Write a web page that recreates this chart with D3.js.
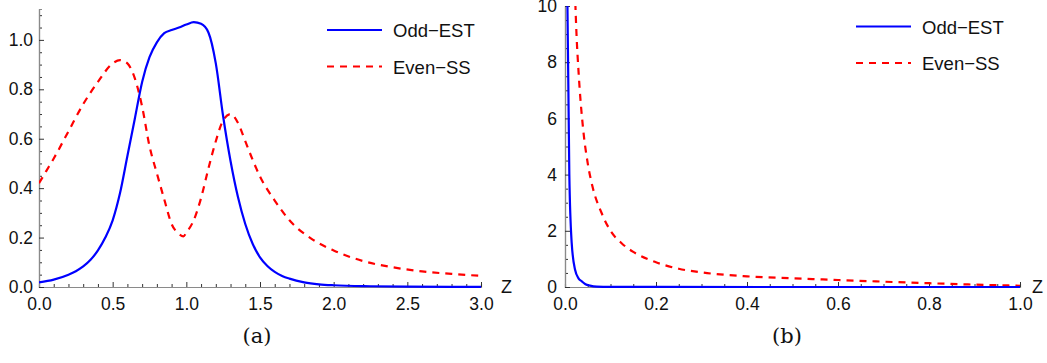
<!doctype html>
<meta charset="utf-8">
<title>Odd-EST / Even-SS</title>
<script src="https://cdn.jsdelivr.net/npm/d3@7"></script>
<style>
    body { margin: 0; background: #fff; }
    svg text { font-family: "Liberation Sans", Arial, sans-serif; fill: #111; }
    .caption { font-family: "DejaVu Serif", "Liberation Serif", serif !important; }
</style>
<body>
<svg id="chart" width="1047" height="363"></svg>
<script>
    // panel (a): values
    var zA     = [0, 0.1, 0.2, 0.25, 0.3, 0.35, 0.4, 0.45, 0.5, 0.55, 0.6, 0.65, 0.7, 0.75, 0.8, 0.85, 0.9, 0.95, 1.0, 1.05, 1.1, 1.15, 1.2, 1.25, 1.3, 1.35, 1.4, 1.45, 1.5, 1.55, 1.6, 1.65, 1.7, 1.8, 1.9, 2.0, 2.25, 2.5, 3.0];
    var oddA   = [0.019, 0.03, 0.05, 0.064, 0.083, 0.11, 0.148, 0.2, 0.27, 0.38, 0.53, 0.68, 0.83, 0.93, 0.99, 1.027, 1.04, 1.05, 1.062, 1.072, 1.065, 1.03, 0.905, 0.69, 0.51, 0.365, 0.255, 0.175, 0.12, 0.085, 0.061, 0.045, 0.034, 0.019, 0.011, 0.007, 0.003, 0.0015, 0.0003];

    var zA2    = [0, 0.05, 0.1, 0.2, 0.3, 0.4, 0.5, 0.55, 0.6, 0.65, 0.7, 0.75, 0.8, 0.85, 0.9, 0.95, 0.98, 1.0, 1.05, 1.1, 1.15, 1.2, 1.25, 1.3, 1.35, 1.4, 1.45, 1.5, 1.6, 1.7, 1.85, 2.0, 2.2, 2.4, 2.6, 2.8, 3.0];
    var evenA  = [0.42, 0.47, 0.52, 0.63, 0.74, 0.83, 0.905, 0.918, 0.905, 0.845, 0.73, 0.57, 0.46, 0.355, 0.255, 0.215, 0.205, 0.22, 0.27, 0.36, 0.48, 0.59, 0.675, 0.70, 0.665, 0.59, 0.515, 0.447, 0.35, 0.27, 0.195, 0.148, 0.105, 0.08, 0.063, 0.053, 0.045];

    // panel (b)
    var zB     = [0.004, 0.0095, 0.0147, 0.022, 0.03, 0.037, 0.045, 0.055, 0.07, 0.1, 0.2, 0.5, 1.0];
    var oddB   = [12, 4, 1.57, 0.62, 0.3, 0.2, 0.1, 0.05, 0.015, 0.005, 0.001, 0, 0];

    var zB2    = [0.02, 0.025, 0.03, 0.04, 0.05, 0.06, 0.08, 0.1, 0.125, 0.15, 0.2, 0.25, 0.3, 0.4, 0.5, 0.6, 0.7, 0.8, 0.9, 1.0];
    var evenB  = [11.5, 9.1, 7.6, 5.6, 4.4, 3.6, 2.65, 2.0, 1.55, 1.25, 0.88, 0.65, 0.52, 0.38, 0.31, 0.25, 0.19, 0.135, 0.085, 0.045];

    var seriesNames = ["Odd\u2212EST", "Even\u2212SS"];
    var xTicksA = [0, 0.5, 1.0, 1.5, 2.0, 2.5, 3.0];
    var yTicksA = [0, 0.2, 0.4, 0.6, 0.8, 1.0];
    var xTicksB = [0, 0.2, 0.4, 0.6, 0.8, 1.0];
    var yTicksB = [0, 2, 4, 6, 8, 10];

    var svg = d3.select("#chart");

    function range(a, b, step) {
        var out = [];
        for (var i = 0; a + i * step <= b + 1e-9; i++) out.push(+(a + i * step).toFixed(4));
        return out;
    }

    function drawPanel(opt) {
        var g = svg.append("g");
        var x = d3.scaleLinear().domain(opt.xDomain).range(opt.xRange);
        var y = d3.scaleLinear().domain(opt.yDomain).range(opt.yRange);

        var clipId = "clip-" + opt.id;
        g.append("clipPath").attr("id", clipId)
            .append("rect")
            .attr("x", opt.xRange[0]).attr("y", opt.yRange[1])
            .attr("width", opt.xRange[1] - opt.xRange[0] + 2)
            .attr("height", opt.yRange[0] - opt.yRange[1] + 2);

        // minor ticks first
        g.append("g").attr("transform", "translate(0," + opt.yRange[0] + ")")
            .call(d3.axisBottom(x).tickValues(opt.xMinor).tickSize(-3).tickFormat(""))
            .call(styleAxis);
        g.append("g").attr("transform", "translate(" + opt.xRange[0] + ",0)")
            .call(d3.axisLeft(y).tickValues(opt.yMinor).tickSize(-3).tickFormat(""))
            .call(styleAxis);

        g.append("g").attr("transform", "translate(0," + opt.yRange[0] + ")")
            .call(d3.axisBottom(x).tickValues(opt.xTicks).tickSize(-5).tickSizeOuter(0)
                .tickPadding(11).tickFormat(d3.format(".1f")))
            .call(styleAxis);
        g.append("g").attr("transform", "translate(" + opt.xRange[0] + ",0)")
            .call(d3.axisLeft(y).tickValues(opt.yTicks).tickSize(-5).tickSizeOuter(0)
                .tickPadding(opt.yPad).tickFormat(opt.yFormat))
            .call(styleAxis);

        g.append("text").attr("x", opt.xRange[1] + opt.zOffset).attr("y", opt.yRange[0] + 6)
            .style("font-size", "18px").text("Z");

        var lineOdd = d3.line().curve(d3.curveMonotoneX)
            .x(function(d, i) { return x(opt.zOdd[i]); })
            .y(function(d) { return y(d); });
        var lineEven = d3.line().curve(d3.curveMonotoneX)
            .x(function(d, i) { return x(opt.zEven[i]); })
            .y(function(d) { return y(d); });

        var plot = g.append("g").attr("clip-path", "url(#" + clipId + ")");
        plot.append("path").datum(opt.even).attr("d", lineEven)
            .attr("fill", "none").attr("stroke", "#ff0000").attr("stroke-width", 2.2)
            .attr("stroke-dasharray", "7,6");
        plot.append("path").datum(opt.odd).attr("d", lineOdd)
            .attr("fill", "none").attr("stroke", "#0000ff").attr("stroke-width", 2.2);

        // legend
        var lg = g.append("g");
        seriesNames.forEach(function(name, i) {
            var ly = opt.legendY[i];
            lg.append("line")
                .attr("x1", opt.legendX).attr("x2", opt.legendX + 55)
                .attr("y1", ly).attr("y2", ly)
                .attr("stroke", i === 0 ? "#0000ff" : "#ff0000")
                .attr("stroke-width", 2.2)
                .attr("stroke-dasharray", i === 0 ? null : "7,6");
            lg.append("text").attr("x", opt.legendX + 66).attr("y", ly + 7)
                .style("font-size", "18.5px").text(name);
        });

        svg.append("text").attr("class", "caption")
            .attr("x", opt.captionX).attr("y", 343)
            .attr("text-anchor", "middle").style("font-size", "21px")
            .text(opt.caption);
    }

    function styleAxis(sel) {
        sel.select(".domain").attr("stroke", "#8a8a8a").attr("stroke-width", 1.2);
        sel.selectAll(".tick line").attr("stroke", "#333");
        sel.selectAll(".tick text").style("font-size", "17.5px").attr("fill", "#111")
            .style("font-family", "'Liberation Sans', Arial, sans-serif");
    }

    drawPanel({
        id: "a",
        xDomain: [0, 3], xRange: [39, 481],
        yDomain: [0, 1.125], yRange: [287, 9],
        xTicks: xTicksA, yTicks: yTicksA,
        xMinor: range(0, 3, 0.1).filter(function(v) { return Math.abs(v * 2 - Math.round(v * 2)) > 1e-6; }),
        yMinor: range(0, 1.1, 0.05).filter(function(v) { return Math.abs(v * 5 - Math.round(v * 5)) > 1e-6; }),
        yFormat: d3.format(".1f"), yPad: 6, zOffset: 20,
        zOdd: zA, odd: oddA, zEven: zA2, even: evenA,
        legendX: 327, legendY: [30, 66.5],
        captionX: 257, caption: "(a)"
    });

    drawPanel({
        id: "b",
        xDomain: [0, 1], xRange: [565, 1020],
        yDomain: [0, 10], yRange: [287, 6],
        xTicks: xTicksB, yTicks: yTicksB,
        xMinor: range(0, 1, 0.05).filter(function(v) { return Math.abs(v * 5 - Math.round(v * 5)) > 1e-6; }),
        yMinor: range(0, 10, 0.5).filter(function(v) { return Math.abs(v / 2 - Math.round(v / 2)) > 1e-6; }),
        yFormat: d3.format("d"), yPad: 8, zOffset: 12,
        zOdd: zB, odd: oddB, zEven: zB2, even: evenB,
        legendX: 856, legendY: [26.5, 63],
        captionX: 787, caption: "(b)"
    });
</script>
</body>
</html>
